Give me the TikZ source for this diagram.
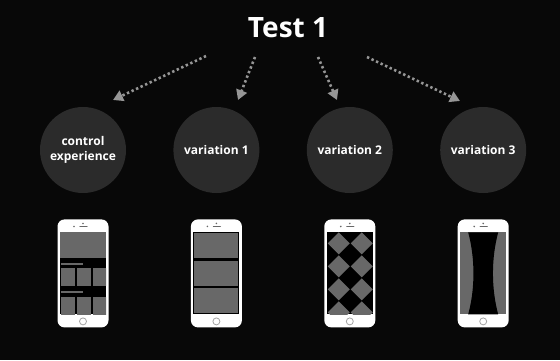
\documentclass[tikz,border=0pt]{standalone}
\usepackage{fontspec}
\setmainfont{Open Sans}
\usetikzlibrary{arrows.meta,positioning}
\definecolor{bgblack}{RGB}{8,8,8}
\definecolor{discgray}{RGB}{43,43,43}
\definecolor{tilegray}{RGB}{104,104,104}
\definecolor{dotgray}{RGB}{150,150,150}

\begin{document}
\begin{tikzpicture}[x=1pt,y=-1pt,
  node distance=47pt,
  disc/.style={circle,fill=discgray,minimum size=86pt,inner sep=0pt,align=center,text=white,font=\bfseries\fontsize{12}{15}\selectfont},
  phone/.style={rectangle,rounded corners=7pt,fill=white,minimum width=51pt,minimum height=108pt,inner sep=0pt},
  arr/.style={dotgray,line width=2.6pt,dash pattern=on 2.4pt off 2.6pt,-{Triangle[length=10pt,width=11pt]}},
  tile/.style={fill=tilegray}
]
\fill[bgblack] (0,0) rectangle (560,360);
\useasboundingbox (0,0) rectangle (560,360);
\node[text=white,font=\bfseries\fontsize{28}{30}\selectfont] (title) at (288,28) {Test 1};

% the four groups
\node[disc] (ctrl) at (83,150) {control\\experience};
\node[disc,right=of ctrl] (var1) {variation 1};
\node[disc,right=of var1] (var2) {variation 2};
\node[disc,right=of var2] (var3) {variation 3};

% arrows out of the title
\coordinate (s0) at (206,56); \coordinate (t0) at (113,100);
\coordinate (s1) at (255,57); \coordinate (t1) at (238,100);
\coordinate (s2) at (318,57); \coordinate (t2) at (337,100);
\coordinate (s3) at (367,57); \coordinate (t3) at (460,101);
\foreach \i in {0,...,3}
  \draw[arr] (s\i) -- (t\i);

% phones
\foreach \d [count=\i from 0] in {ctrl,var1,var2,var3} {
  \node[phone,below=26pt of \d] (p\i) {};
  \begin{scope}[shift={(p\i.center)}]
    \fill[black] (-23,-41) rectangle (23,41);
    \fill[tilegray] (0,-50) circle (0.9pt);
    \fill[tilegray] (-9,-47) circle (0.9pt);
    \draw[tilegray,line width=1.2pt,line cap=round] (-3,-47) -- (4,-47);
    \draw[tilegray!60,line width=0.8pt] (0,48) circle (3.5pt);
  \end{scope}
}

% screen of the control experience
\begin{scope}[shift={(p0.center)}]
  \clip (-23,-41) rectangle (23,41);
  \fill[tile] (-23,-41) rectangle (23,-15);
  \fill[tile] (-22,-10) rectangle (0,-8);
  \fill[tile] (-22,18) rectangle (0,20);
  \foreach \x in {-22,-6,10} {
    \fill[tile] (\x,-5) rectangle ++(14,18);
    \fill[tile] (\x,24) rectangle ++(14,18);
  }
\end{scope}

% screen of variation 1
\begin{scope}[shift={(p1.center)}]
  \foreach \y in {-40,-12,15}
    \fill[tile] (-22,\y) rectangle ++(44,25);
\end{scope}

% screen of variation 2
\begin{scope}[shift={(p2.center)}]
  \clip (-23,-41) rectangle (23,41);
  \foreach \y in {-30,-7,16,39}
    \foreach \x in {-11,12}
      \fill[tile] (\x-11,\y) -- (\x,\y-11) -- (\x+11,\y) -- (\x,\y+11) -- cycle;
\end{scope}

% screen of variation 3
\begin{scope}[shift={(p3.center)}]
  \fill[tile] (-23,-41) rectangle (23,41);
  \fill[black] (-15,-41) .. controls (-8,-15) and (-8,15) .. (-15,41)
    -- (15,41) .. controls (8,15) and (8,-15) .. (15,-41) -- cycle;
\end{scope}
\end{tikzpicture}
\end{document}
